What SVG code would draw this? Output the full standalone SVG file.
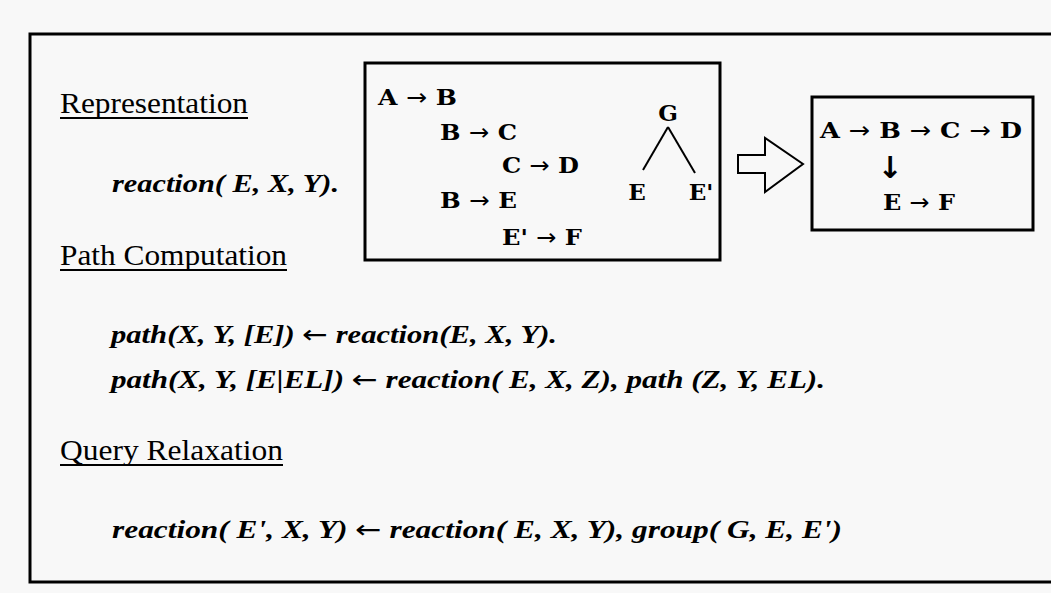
<svg xmlns="http://www.w3.org/2000/svg" width="1051" height="593" viewBox="0 0 1051 593">
<style>
.head{font-family:"Liberation Serif",serif;font-size:29px;fill:#000}
.ul{stroke:#000;stroke-width:2}
.f{font-family:"Liberation Serif",serif;font-style:italic;font-weight:bold;font-size:25px;fill:#000}
.m{font-family:"DejaVu Serif",serif;font-weight:bold;font-size:23px;fill:#000}
.ar{font-family:"DejaVu Sans",sans-serif;font-style:normal;font-weight:normal}
.dn{font-size:30px;font-weight:bold}
.box{fill:none;stroke:#000;stroke-width:3}
.ln{fill:none;stroke:#000;stroke-width:2}
</style>
<rect x="0" y="0" width="1051" height="593" fill="#f8f8f8"/>
<path d="M1051 34 H30 V582 H1051" fill="none" stroke="#000" stroke-width="3"/>

<g id="representation">
<text class="head" x="60" y="113" textLength="188" lengthAdjust="spacingAndGlyphs">Representation</text>
<line class="ul" x1="60" y1="118" x2="248" y2="118"/>
<text class="f" x="112" y="192" textLength="227" lengthAdjust="spacingAndGlyphs">reaction( E, X, Y).</text>
</g>

<g id="path-computation">
<text class="head" x="60" y="265" textLength="227" lengthAdjust="spacingAndGlyphs">Path Computation</text>
<line class="ul" x1="60" y1="270" x2="287" y2="270"/>
<text class="f" x="111" y="343" textLength="446" lengthAdjust="spacingAndGlyphs">path(X, Y, [E]) <tspan class="ar">←</tspan> reaction(E, X, Y).</text>
<text class="f" x="111" y="388" textLength="714" lengthAdjust="spacingAndGlyphs">path(X, Y, [E|EL]) <tspan class="ar">←</tspan> reaction( E, X, Z), path (Z, Y, EL).</text>
</g>

<g id="query-relaxation">
<text class="head" x="60" y="460" textLength="223" lengthAdjust="spacingAndGlyphs">Query Relaxation</text>
<line class="ul" x1="60" y1="465" x2="283" y2="465"/>
<text class="f" x="112" y="538" textLength="730" lengthAdjust="spacingAndGlyphs">reaction( E', X, Y) <tspan class="ar">←</tspan> reaction( E, X, Y), group( G, E, E')</text>
</g>

<g id="reactions-box">
<rect class="box" x="365" y="63" width="355" height="197"/>
<text class="m" x="378" y="105" textLength="79" lengthAdjust="spacingAndGlyphs">A <tspan class="ar">→</tspan> B</text>
<text class="m" x="440" y="140" textLength="77" lengthAdjust="spacingAndGlyphs">B <tspan class="ar">→</tspan> C</text>
<text class="m" x="502" y="173" textLength="77" lengthAdjust="spacingAndGlyphs">C <tspan class="ar">→</tspan> D</text>
<text class="m" x="440" y="208" textLength="77" lengthAdjust="spacingAndGlyphs">B <tspan class="ar">→</tspan> E</text>
<text class="m" x="502" y="245" textLength="80" lengthAdjust="spacingAndGlyphs">E' <tspan class="ar">→</tspan> F</text>
<text class="m" x="668" y="121" text-anchor="middle">G</text>
<text class="m" x="637" y="200" text-anchor="middle">E</text>
<text class="m" x="701" y="200" text-anchor="middle">E'</text>
</g>

<g id="result-box">
<rect class="box" x="812" y="97" width="221" height="133"/>
<text class="m" x="820" y="138" textLength="202" lengthAdjust="spacingAndGlyphs">A <tspan class="ar">→</tspan> B <tspan class="ar">→</tspan> C <tspan class="ar">→</tspan> D</text>
<text class="m" x="890" y="178" text-anchor="middle"><tspan class="ar dn">↓</tspan></text>
<text class="m" x="883" y="210" textLength="72" lengthAdjust="spacingAndGlyphs">E <tspan class="ar">→</tspan> F</text>
</g>

<g id="connectors">
<path class="ln" d="M668 127 L643 170"/>
<path class="ln" d="M668 127 L695 173"/>
<polygon class="ln" points="738,155 765,155 765,138 803,164 765,192 765,173 738,173"/>
</g>
</svg>
